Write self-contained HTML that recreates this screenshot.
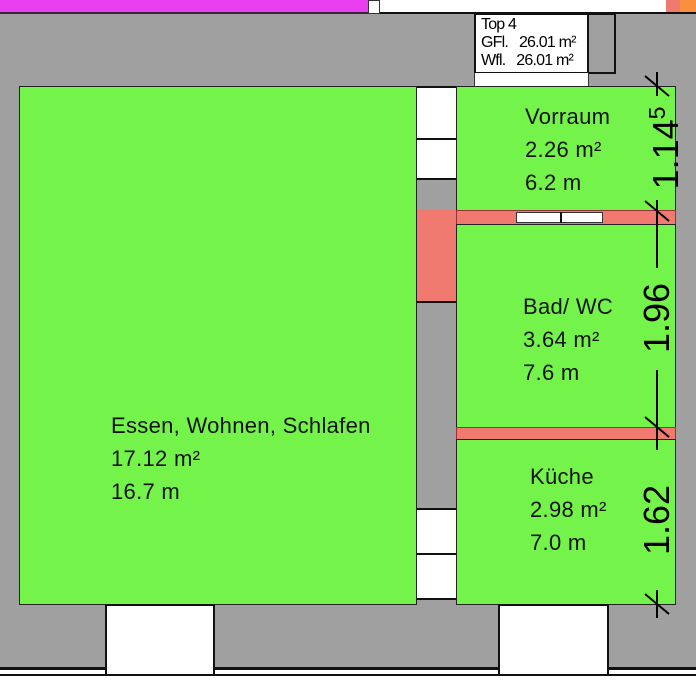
<!DOCTYPE html>
<html><head><style>
body{margin:0;width:696px;height:690px;background:#fff;position:relative;overflow:hidden;font-family:"Liberation Sans",sans-serif}
div{position:absolute;box-sizing:border-box}
.g{background:#74f44a;border:1.5px solid #222}
.w{background:#fff;border:2px solid #111}
.r{background:#f07a70}
.t{font-size:22px;letter-spacing:0.3px;color:#111;line-height:33px;white-space:nowrap}
.d{font-size:36px;color:#000;transform:rotate(-90deg);transform-origin:center;white-space:nowrap;text-align:center;width:120px;height:38px;line-height:38px}
</style></head><body>
<div style="left:0;top:0;width:696px;height:668px;background:#a0a0a0"></div>
<div style="left:0;top:0;width:368px;height:14px;background:#e840f0;border-bottom:2px solid #402040"></div>
<div style="left:368px;top:0;width:12px;height:14px;background:#fff;border:1px solid #333"></div>
<div style="left:380px;top:0;width:288px;height:14px;background:#fff;border-bottom:2px solid #111"></div>
<div style="left:666px;top:0;width:14px;height:14px;background:#f07a70;border-bottom:2px solid #111"></div>
<div style="left:680px;top:0;width:16px;height:14px;background:#f89040;border-bottom:2px solid #111"></div>
<div style="left:474px;top:13px;width:142px;height:61px;border:2px solid #111"></div>
<div style="left:474px;top:13px;width:115px;height:61px;background:#fff;border:2px solid #111;font-size:16px;line-height:18px;padding:1px 0 0 5px;letter-spacing:-0.8px">Top 4<br>GFl.&nbsp;&nbsp; 26.01 m²<br>Wfl.&nbsp;&nbsp; 26.01 m²</div>
<div style="left:474px;top:73px;width:115px;height:14px;background:#fff;border-left:1px solid #333;border-right:1px solid #333"></div>
<div style="left:416px;top:86px;width:41px;height:94px;background:#fff;border-top:2px solid #111;border-bottom:2px solid #111"></div>
<div style="left:416px;top:138px;width:41px;height:2px;background:#111"></div>
<div style="left:416px;top:210px;width:41px;height:92px" class="r"></div>
<div style="left:416px;top:301px;width:41px;height:2px;background:#111"></div>
<div style="left:416px;top:508px;width:41px;height:92px;background:#fff;border-top:2px solid #111;border-bottom:2px solid #111"></div>
<div style="left:416px;top:553px;width:41px;height:2px;background:#111"></div>
<div style="left:19px;top:86px;width:398px;height:519px" class="g"></div>
<div class="t" style="left:111px;top:409px">Essen, Wohnen, Schlafen<br>17.12 m²<br>16.7 m</div>
<div style="left:456px;top:86px;width:220px;height:126px" class="g"></div>
<div class="t" style="left:525px;top:100px">Vorraum<br>2.26 m²<br>6.2 m</div>
<div style="left:456px;top:210px;width:220px;height:15px;border:1px solid #933" class="r"></div>
<div style="left:516px;top:212px;width:87px;height:11px;background:#fff;border:1px solid #333"></div>
<div style="left:560px;top:212px;width:2px;height:11px;background:#111"></div>
<div style="left:456px;top:224px;width:220px;height:204px" class="g"></div>
<div class="t" style="left:523px;top:290px">Bad/ WC<br>3.64 m²<br>7.6 m</div>
<div style="left:456px;top:427px;width:220px;height:13px;border:1px solid #933" class="r"></div>
<div style="left:456px;top:439px;width:220px;height:166px" class="g"></div>
<div class="t" style="left:530px;top:460px">Küche<br>2.98 m²<br>7.0 m</div>
<div style="left:0;top:667px;width:696px;height:3px;background:#111"></div>
<div style="left:0;top:674px;width:696px;height:2px;background:#111"></div>
<div style="left:105px;top:604px;width:110px;height:72px" class="w"></div>
<div style="left:498px;top:604px;width:111px;height:72px" class="w"></div>
<svg style="position:absolute;left:0;top:0" width="696" height="690">
<g stroke="#000" stroke-width="2">
<line x1="657" y1="72" x2="657" y2="96"/><line x1="657" y1="200" x2="657" y2="222"/>
<line x1="657" y1="222" x2="657" y2="268"/><line x1="657" y1="370" x2="657" y2="440"/>
<line x1="657" y1="440" x2="657" y2="450"/><line x1="657" y1="590" x2="657" y2="618"/>
<line x1="645" y1="76" x2="669" y2="96"/><line x1="645" y1="201" x2="669" y2="221"/>
<line x1="645" y1="417" x2="669" y2="437"/><line x1="645" y1="594" x2="669" y2="614"/>
</g></svg>
<div class="d" style="left:597px;top:129px">1.14<sup style="font-size:23px">5</sup></div>
<div class="d" style="left:597px;top:299px">1.96</div>
<div class="d" style="left:597px;top:501px">1.62</div>
</body></html>
